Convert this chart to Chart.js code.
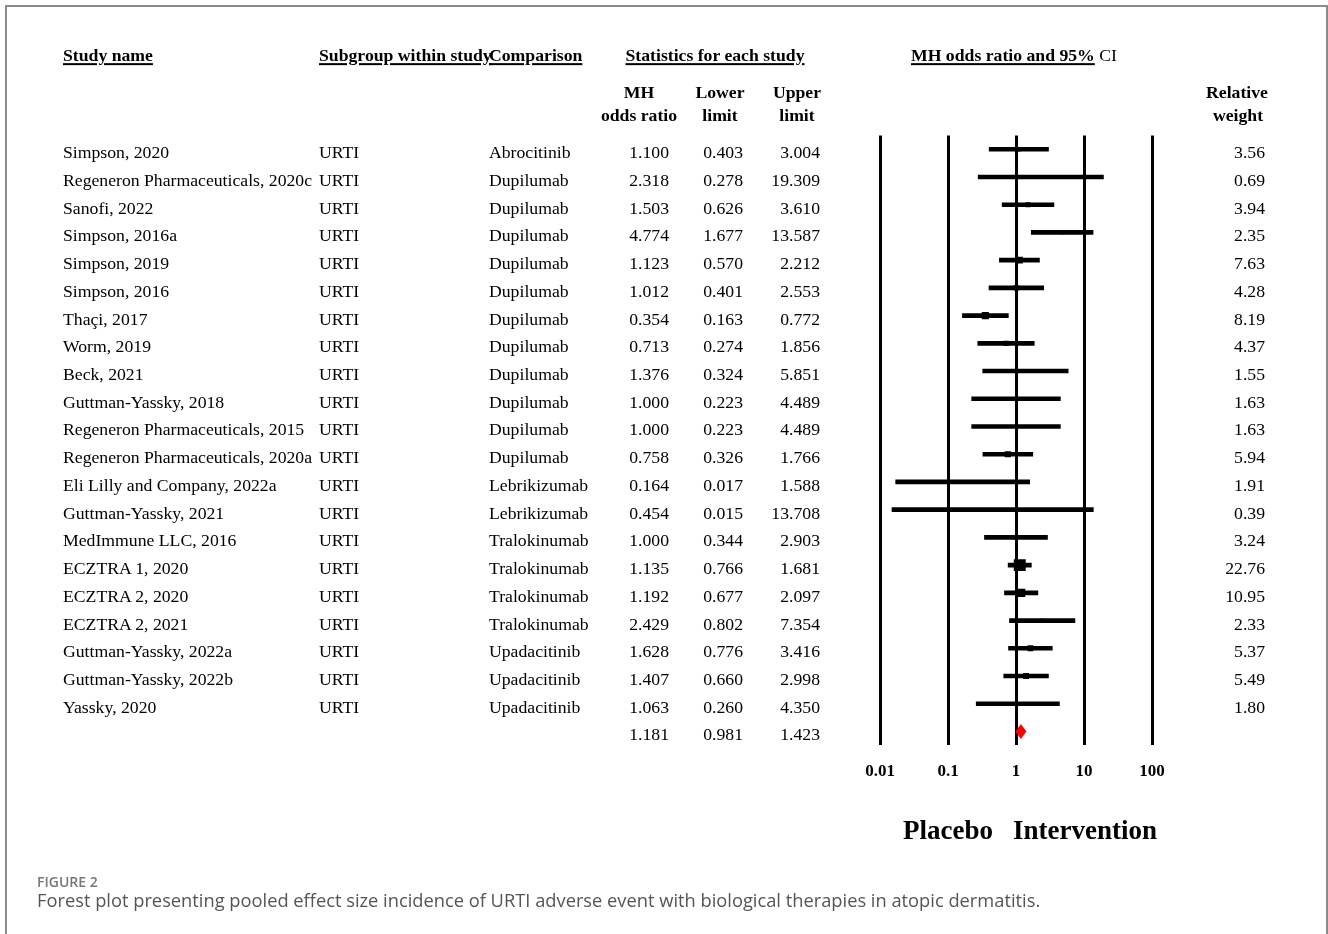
<!DOCTYPE html>
<html>
<head>
<meta charset="utf-8">
<title>Forest plot - URTI</title>
<script src="https://cdn.jsdelivr.net/npm/chart.js@4.4.0/dist/chart.umd.min.js"></script>
<style>
  body { margin: 0; background: #fff; }
  #page { position: relative; width: 1328px; height: 934px; overflow: hidden; }
  #frame { position: absolute; left: 5px; top: 5px; width: 1319px; height: 960px;
           border: 2px solid #8c8c8c; border-bottom: none; }
  #wrap { position: absolute; left: 0; top: 0; width: 1328px; height: 934px; }
  .t { position: absolute; white-space: nowrap; line-height: 1; color: #000;
       font-family: "Liberation Serif", "Times New Roman", serif; font-size: 17.7px;
       transform: translateY(-50%); }
  .c { transform: translate(-50%, -50%); }
  .r { transform: translate(-100%, -50%); }
  .b { font-weight: bold; }
  .u { text-decoration: underline; text-decoration-thickness: 1.5px; text-underline-offset: 2px; }
  .cap { position: absolute; left: 37px; white-space: nowrap; font-family: "Open Sans", sans-serif; }
</style>
</head>
<body>
<div id="page">
  <div id="frame"></div>
  <div id="wrap"><canvas id="myChart"></canvas></div>

  <div class="t b u" style="left:63px;top:56px">Study name</div>
  <div class="t b u" style="left:319px;top:56px">Subgroup within study</div>
  <div class="t b u" style="left:489px;top:56px">Comparison</div>
  <div class="t b u c" style="left:715px;top:56px">Statistics for each study</div>
  <div class="t b" style="left:911px;top:56px"><span class="u">MH odds ratio and 95%</span> <span style="font-weight:normal">CI</span></div>

  <div class="t b c" style="left:639px;top:93px">MH</div>
  <div class="t b c" style="left:639px;top:116px">odds ratio</div>
  <div class="t b c" style="left:720px;top:93px">Lower</div>
  <div class="t b c" style="left:720px;top:116px">limit</div>
  <div class="t b c" style="left:797px;top:93px">Upper</div>
  <div class="t b c" style="left:797px;top:116px">limit</div>
  <div class="t b c" style="left:1237px;top:93px">Relative</div>
  <div class="t b c" style="left:1238px;top:116px">weight</div>

  <div class="t b" style="left:903px;top:830px;font-size:27px">Placebo</div>
  <div class="t b" style="left:1013px;top:830px;font-size:27px">Intervention</div>

  <div class="cap" style="top:872px;font-size:14px;font-weight:600;color:#777">FIGURE 2</div>
  <div class="cap" style="top:887px;font-size:18.3px;color:#555">Forest plot presenting pooled effect size incidence of URTI adverse event with biological therapies in atopic dermatitis.</div>
  <div id="rows"></div>
</div>

<script>
const studies = [
  'Simpson, 2020',
  'Regeneron Pharmaceuticals, 2020c',
  'Sanofi, 2022',
  'Simpson, 2016a',
  'Simpson, 2019',
  'Simpson, 2016',
  'Thaçi, 2017',
  'Worm, 2019',
  'Beck, 2021',
  'Guttman-Yassky, 2018',
  'Regeneron Pharmaceuticals, 2015',
  'Regeneron Pharmaceuticals, 2020a',
  'Eli Lilly and Company, 2022a',
  'Guttman-Yassky, 2021',
  'MedImmune LLC, 2016',
  'ECZTRA 1, 2020',
  'ECZTRA 2, 2020',
  'ECZTRA 2, 2021',
  'Guttman-Yassky, 2022a',
  'Guttman-Yassky, 2022b',
  'Yassky, 2020'
];
const subgroups = ['URTI','URTI','URTI','URTI','URTI','URTI','URTI','URTI','URTI','URTI','URTI',
                   'URTI','URTI','URTI','URTI','URTI','URTI','URTI','URTI','URTI','URTI'];
const comparisons = ['Abrocitinib','Dupilumab','Dupilumab','Dupilumab','Dupilumab','Dupilumab',
  'Dupilumab','Dupilumab','Dupilumab','Dupilumab','Dupilumab','Dupilumab','Lebrikizumab',
  'Lebrikizumab','Tralokinumab','Tralokinumab','Tralokinumab','Tralokinumab','Upadacitinib',
  'Upadacitinib','Upadacitinib'];
const oddsRatio = [1.100, 2.318, 1.503, 4.774, 1.123, 1.012, 0.354, 0.713, 1.376, 1.000, 1.000,
                   0.758, 0.164, 0.454, 1.000, 1.135, 1.192, 2.429, 1.628, 1.407, 1.063];
const lowerLimit = [0.403, 0.278, 0.626, 1.677, 0.570, 0.401, 0.163, 0.274, 0.324, 0.223, 0.223,
                    0.326, 0.017, 0.015, 0.344, 0.766, 0.677, 0.802, 0.776, 0.660, 0.260];
const upperLimit = [3.004, 19.309, 3.610, 13.587, 2.212, 2.553, 0.772, 1.856, 5.851, 4.489, 4.489,
                    1.766, 1.588, 13.708, 2.903, 1.681, 2.097, 7.354, 3.416, 2.998, 4.350];
const weights = [3.56, 0.69, 3.94, 2.35, 7.63, 4.28, 8.19, 4.37, 1.55, 1.63, 1.63,
                 5.94, 1.91, 0.39, 3.24, 22.76, 10.95, 2.33, 5.37, 5.49, 1.80];
const pooled = [1.181, 0.981, 1.423]; // MH odds ratio, lower, upper
const xTicks = [0.01, 0.1, 1, 10, 100];
const xTickLabels = ['0.01', '0.1', '1', '10', '100'];

const nRows = studies.length + 1;

// red diamond for the pooled estimate
const diamondPlugin = {
  id: 'diamond',
  afterDatasetsDraw(chart) {
    const x = chart.scales.x, y = chart.scales.y, c = chart.ctx;
    const yc = y.getPixelForValue(studies.length);
    c.save();
    c.fillStyle = '#ff0000';
    c.beginPath();
    c.moveTo(x.getPixelForValue(pooled[1]), yc);
    c.lineTo(x.getPixelForValue(pooled[0]), yc - 7.5);
    c.lineTo(x.getPixelForValue(pooled[2]), yc);
    c.lineTo(x.getPixelForValue(pooled[0]), yc + 7.5);
    c.closePath();
    c.fill();
    c.restore();
  }
};

const chart = new Chart(document.getElementById('myChart'), {
  data: {
    datasets: [
      {
        type: 'bar',
        indexAxis: 'y',
        data: studies.map((s, i) => ({ x: [lowerLimit[i], upperLimit[i]], y: i })),
        backgroundColor: '#000',
        barThickness: 4,
        borderWidth: 0
      },
      {
        type: 'scatter',
        data: oddsRatio.map((v, i) => ({ x: v, y: i })),
        pointStyle: 'rect',
        pointRadius: c => 2.5 * Math.sqrt(weights[c.dataIndex]) / Math.SQRT2,
        backgroundColor: '#000',
        borderColor: '#000',
        borderWidth: 0
      }
    ]
  },
  options: {
    responsive: true,
    maintainAspectRatio: false,
    animation: false,
    events: [],
    layout: { padding: { left: 880, right: 176, top: 135.4, bottom: 148.7 } },
    plugins: { legend: { display: false }, tooltip: { enabled: false } },
    scales: {
      x: {
        type: 'logarithmic',
        min: 0.01,
        max: 100,
        afterBuildTicks: s => { s.ticks = xTicks.map(v => ({ value: v })); },
        afterFit: s => { s.height = 40; },
        grid: { color: '#000', lineWidth: 3, drawTicks: false },
        border: { display: false },
        ticks: {
          padding: 16,
          color: '#000',
          font: { family: 'Liberation Serif', weight: 'bold', size: 17 },
          callback: (v) => xTickLabels[xTicks.indexOf(v)]
        }
      },
      y: {
        type: 'linear',
        reverse: true,
        offset: false,
        min: -0.5,
        max: nRows - 0.5,
        display: false
      }
    }
  },
  plugins: [diamondPlugin]
});

// table text, one line per row, placed on the chart's own row positions
const rowsDiv = document.getElementById('rows');
function put(text, left, top, cls) {
  const d = document.createElement('div');
  d.className = 't ' + (cls || '');
  d.style.left = left + 'px';
  d.style.top = top + 'px';
  d.textContent = text;
  rowsDiv.appendChild(d);
}
const ys = chart.scales.y;
for (let i = 0; i < nRows; i++) {
  const top = ys.getPixelForValue(i) + 4;
  if (i < studies.length) {
    put(studies[i], 63, top);
    put(subgroups[i], 319, top);
    put(comparisons[i], 489, top);
    put(oddsRatio[i].toFixed(3), 669, top, 'r');
    put(lowerLimit[i].toFixed(3), 743, top, 'r');
    put(upperLimit[i].toFixed(3), 820, top, 'r');
    put(weights[i].toFixed(2), 1265, top, 'r');
  } else {
    put(pooled[0].toFixed(3), 669, top, 'r');
    put(pooled[1].toFixed(3), 743, top, 'r');
    put(pooled[2].toFixed(3), 820, top, 'r');
  }
}
</script>
</body>
</html>
